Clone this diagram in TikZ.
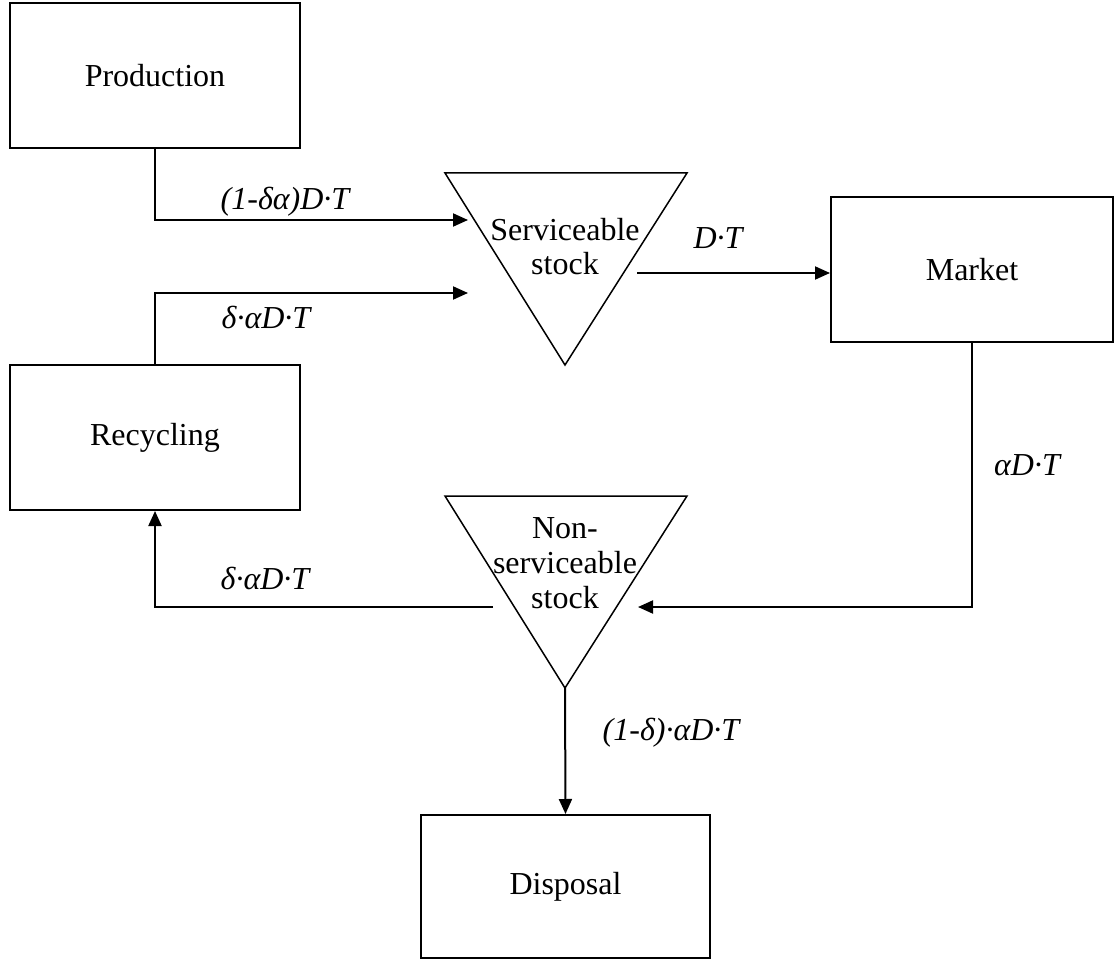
\documentclass[tikz,border=0pt]{standalone}
\usepackage{fontspec}
\setmainfont{Liberation Serif}
\usetikzlibrary{arrows.meta}
\begin{document}
\begin{tikzpicture}[x=1pt,y=-1pt,
  box/.style={draw,line width=2pt,minimum width=290pt,minimum height=145pt,inner sep=0pt,
    font=\fontsize{32}{35}\selectfont},
  tri/.style={draw,line width=1.5pt,line join=miter},
  tritext/.style={align=center,inner sep=0pt,font=\fontsize{32}{34}\selectfont},
  lbl/.style={inner sep=0pt,font=\fontsize{32}{35}\selectfont\itshape},
  arr/.style={line width=2pt,-{Triangle[length=15pt,width=13pt]}},
  ln/.style={line width=2pt}]
\useasboundingbox (0,0) rectangle (1117,960);

% boxes
\node[box] (prod) at (155,75.5) {Production};
\node[box] (recy) at (155,437.5) {Recycling};
\node[box,minimum width=282pt] (market) at (972,269.5) {Market};
\node[box,minimum width=289pt,minimum height=143pt] (disp) at (565.5,886.5) {Disposal};

% serviceable stock triangle
\coordinate (s-tl) at (445,173);
\coordinate (s-tr) at (687,173);
\coordinate (s-ap) at (565,365);
\draw[tri] (s-tl) -- (s-tr) -- (s-ap) -- cycle;
\node[tritext] (serv) at (565,247) {Serviceable\\stock};

% non-serviceable stock triangle
\coordinate (n-tl) at (445,496);
\coordinate (n-tr) at (687,496);
\coordinate (n-ap) at (565,688);
\draw[tri] (n-tl) -- (n-tr) -- (n-ap) -- cycle;
\node[tritext,font=\fontsize{32}{35}\selectfont] (nserv) at (565,563) {Non-\\serviceable\\stock};

% connector end points
\coordinate (in1) at (468,220);
\coordinate (in2) at (468,293);
\coordinate (out1) at (637,273);
\coordinate (in3) at (638,607);
\coordinate (out2) at (493,607);

% connectors
\draw[arr] (prod.south) |- (in1);
\draw[arr] (recy.north) |- (in2);
\draw[arr] (out1) -- (out1 -| market.west);
\draw[arr] (market.south) |- (in3);
\draw[arr] (out2) -| (recy.south);
\draw[arr] (n-ap) -- (disp.north);

% labels
\node[lbl] (l1) at (285,202) {(1-δα)D·T};
\node[lbl] (l2) at (266,317) {δ·αD·T};
\node[lbl] (l3) at (718,238) {D·T};
\node[lbl] (l4) at (1027,465) {αD·T};
\node[lbl] (l5) at (265,578) {δ·αD·T};
\node[lbl] (l6) at (671,733) {(1-δ)·αD·T};
\end{tikzpicture}
\end{document}
